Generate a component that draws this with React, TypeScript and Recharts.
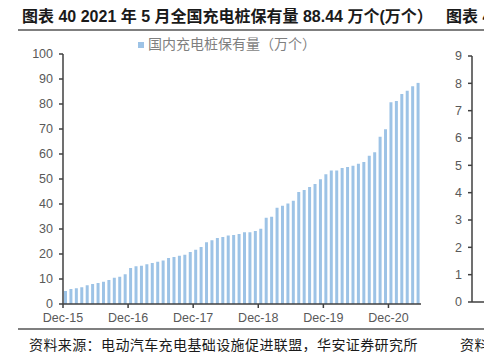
import { Bar, BarChart, Legend, XAxis, YAxis } from 'recharts';

// 国内充电桩保有量（万个），Dec-15 ~ May-21 monthly
const START_YEAR = 2015;
const MONTHS = ['Jan', 'Feb', 'Mar', 'Apr', 'May', 'Jun', 'Jul', 'Aug', 'Sep', 'Oct', 'Nov', 'Dec'];

const VALUES_2016 = [5.2, 6.0, 6.3, 6.7, 7.5, 8.0, 8.4, 8.9, 9.6, 10.5, 10.9, 11.9];
const VALUES_2017 = [14.4, 15.1, 15.3, 15.9, 16.4, 16.9, 17.4, 18.4, 18.8, 19.3, 19.7, 20.8];
const VALUES_2018 = [21.7, 22.8, 24.7, 25.5, 26.4, 26.8, 27.4, 27.6, 28.0, 28.7, 28.7, 29.2];
const VALUES_2019 = [30.1, 34.5, 34.9, 38.5, 39.3, 40.2, 41.3, 44.8, 45.6, 46.8, 48.0, 49.9];
const VALUES_2020 = [51.9, 53.4, 53.4, 54.4, 54.8, 55.3, 56.1, 56.8, 59.3, 60.7, 66.9, 69.9];
const VALUES_2021 = [80.7, 81.2, 84.0, 85.3, 87.1, 88.44];

const VALUES = [...VALUES_2016, ...VALUES_2017, ...VALUES_2018, ...VALUES_2019, ...VALUES_2020, ...VALUES_2021];

// first bar is Dec-15
const MONTH_LABELS = VALUES.map((_, i) => {
    const m = (11 + i) % 12;
    const y = START_YEAR + Math.floor((11 + i) / 12);
    return `${MONTHS[m]}-${String(y).slice(2)}`;
});

const Y_TICKS = [0, 10, 20, 30, 40, 50, 60, 70, 80, 90, 100];
const X_TICKS = [0, 12, 24, 36, 48, 60];

// the next chart (图表 41) is cut off by the right edge, only its axis shows
const RIGHT_Y_TICKS = [0, 1, 2, 3, 4, 5, 6, 7, 8, 9];
const RIGHT_CATEGORIES = ['2015', '2016', '2017', '2018', '2019', '2020'];

const SERIES_NAME = '国内充电桩保有量（万个）';
const BAR_COLOR = '#9dc3e6';
const AXIS_COLOR = '#404040';
const TICK_STYLE = { fontSize: 12.5, fill: '#595959', fontFamily: '"Liberation Sans", Arial, sans-serif' };

const rows = VALUES.map((value, i) => ({ x: i + 0.5, month: MONTH_LABELS[i], value }));
const rightRows = RIGHT_CATEGORIES.map((name) => ({ name, value: 0 }));

const CJK = '"Noto Sans CJK SC", sans-serif';

const titleStyle = {
    position: 'absolute' as const,
    top: 3,
    fontSize: 16,
    fontWeight: 700,
    whiteSpace: 'nowrap' as const,
    color: '#1a1a1a',
    fontFamily: `"Liberation Sans", ${CJK}`,
};

const sourceStyle = {
    position: 'absolute' as const,
    top: 334,
    fontSize: 14,
    letterSpacing: 0.4,
    whiteSpace: 'nowrap' as const,
    color: '#1a1a1a',
    fontFamily: CJK,
};

export default function App() {
    return (
        <div style={{ position: 'relative', width: 492, height: 360, margin: -8, overflow: 'hidden', background: '#fff' }}>
            <div style={{ ...titleStyle, left: 22 }}>图表 40 2021 年 5 月全国充电桩保有量 88.44 万个(万个）</div>
            <div style={{ ...titleStyle, left: 446 }}>图表 41</div>
            <div style={{ position: 'absolute', left: 18, top: 29, width: 474, height: 1.5, background: '#7f7f7f' }} />

            <div style={{ position: 'absolute', left: 0, top: 0 }}>
                <BarChart width={430} height={340} data={rows} margin={{ top: 54, right: 9, left: 23, bottom: 6 }}>
                    <XAxis
                        dataKey="x"
                        type="number"
                        domain={[0, VALUES.length]}
                        ticks={X_TICKS}
                        tickFormatter={(v: number) => MONTH_LABELS[v]}
                        interval={0}
                        tick={TICK_STYLE}
                        tickSize={4}
                        tickMargin={5}
                        axisLine={{ stroke: AXIS_COLOR, strokeWidth: 1.5 }}
                        tickLine={{ stroke: AXIS_COLOR, strokeWidth: 1.5 }}
                        height={30}
                    />
                    <YAxis
                        domain={[0, 100]}
                        ticks={Y_TICKS}
                        interval={0}
                        tick={TICK_STYLE}
                        tickSize={4}
                        tickMargin={6}
                        axisLine={{ stroke: AXIS_COLOR, strokeWidth: 1.5 }}
                        tickLine={{ stroke: AXIS_COLOR, strokeWidth: 1.5 }}
                        width={40}
                    />
                    <Legend
                        layout="horizontal"
                        verticalAlign="middle"
                        align="center"
                        iconType="square"
                        iconSize={6}
                        wrapperStyle={{ top: 33, left: 138, width: 'auto', fontFamily: CJK, fontSize: 14 }}
                        formatter={(value) => <span style={{ color: '#7f7f7f' }}>{value}</span>}
                    />
                    <Bar dataKey="value" name={SERIES_NAME} fill={BAR_COLOR} barSize={3} isAnimationActive={false} />
                </BarChart>
            </div>

            <div style={{ position: 'absolute', left: 430, top: 0 }}>
                <BarChart width={420} height={340} data={rightRows} margin={{ top: 56, right: 10, left: 12, bottom: 8 }}>
                    <XAxis
                        dataKey="name"
                        tick={TICK_STYLE}
                        tickSize={0}
                        tickMargin={9}
                        axisLine={{ stroke: AXIS_COLOR, strokeWidth: 1.5 }}
                        height={30}
                    />
                    <YAxis
                        domain={[0, 9]}
                        ticks={RIGHT_Y_TICKS}
                        interval={0}
                        tick={TICK_STYLE}
                        tickSize={4}
                        tickMargin={6}
                        axisLine={{ stroke: AXIS_COLOR, strokeWidth: 1.5 }}
                        tickLine={{ stroke: AXIS_COLOR, strokeWidth: 1.5 }}
                        width={30}
                    />
                    <Bar dataKey="value" fill={BAR_COLOR} isAnimationActive={false} />
                </BarChart>
            </div>

            <div style={{ position: 'absolute', left: 18, top: 328, width: 474, height: 1.5, background: '#7f7f7f' }} />
            <div style={{ ...sourceStyle, left: 29 }}>资料来源：电动汽车充电基础设施促进联盟，华安证券研究所</div>
            <div style={{ ...sourceStyle, left: 460 }}>资料来源</div>
        </div>
    );
}
